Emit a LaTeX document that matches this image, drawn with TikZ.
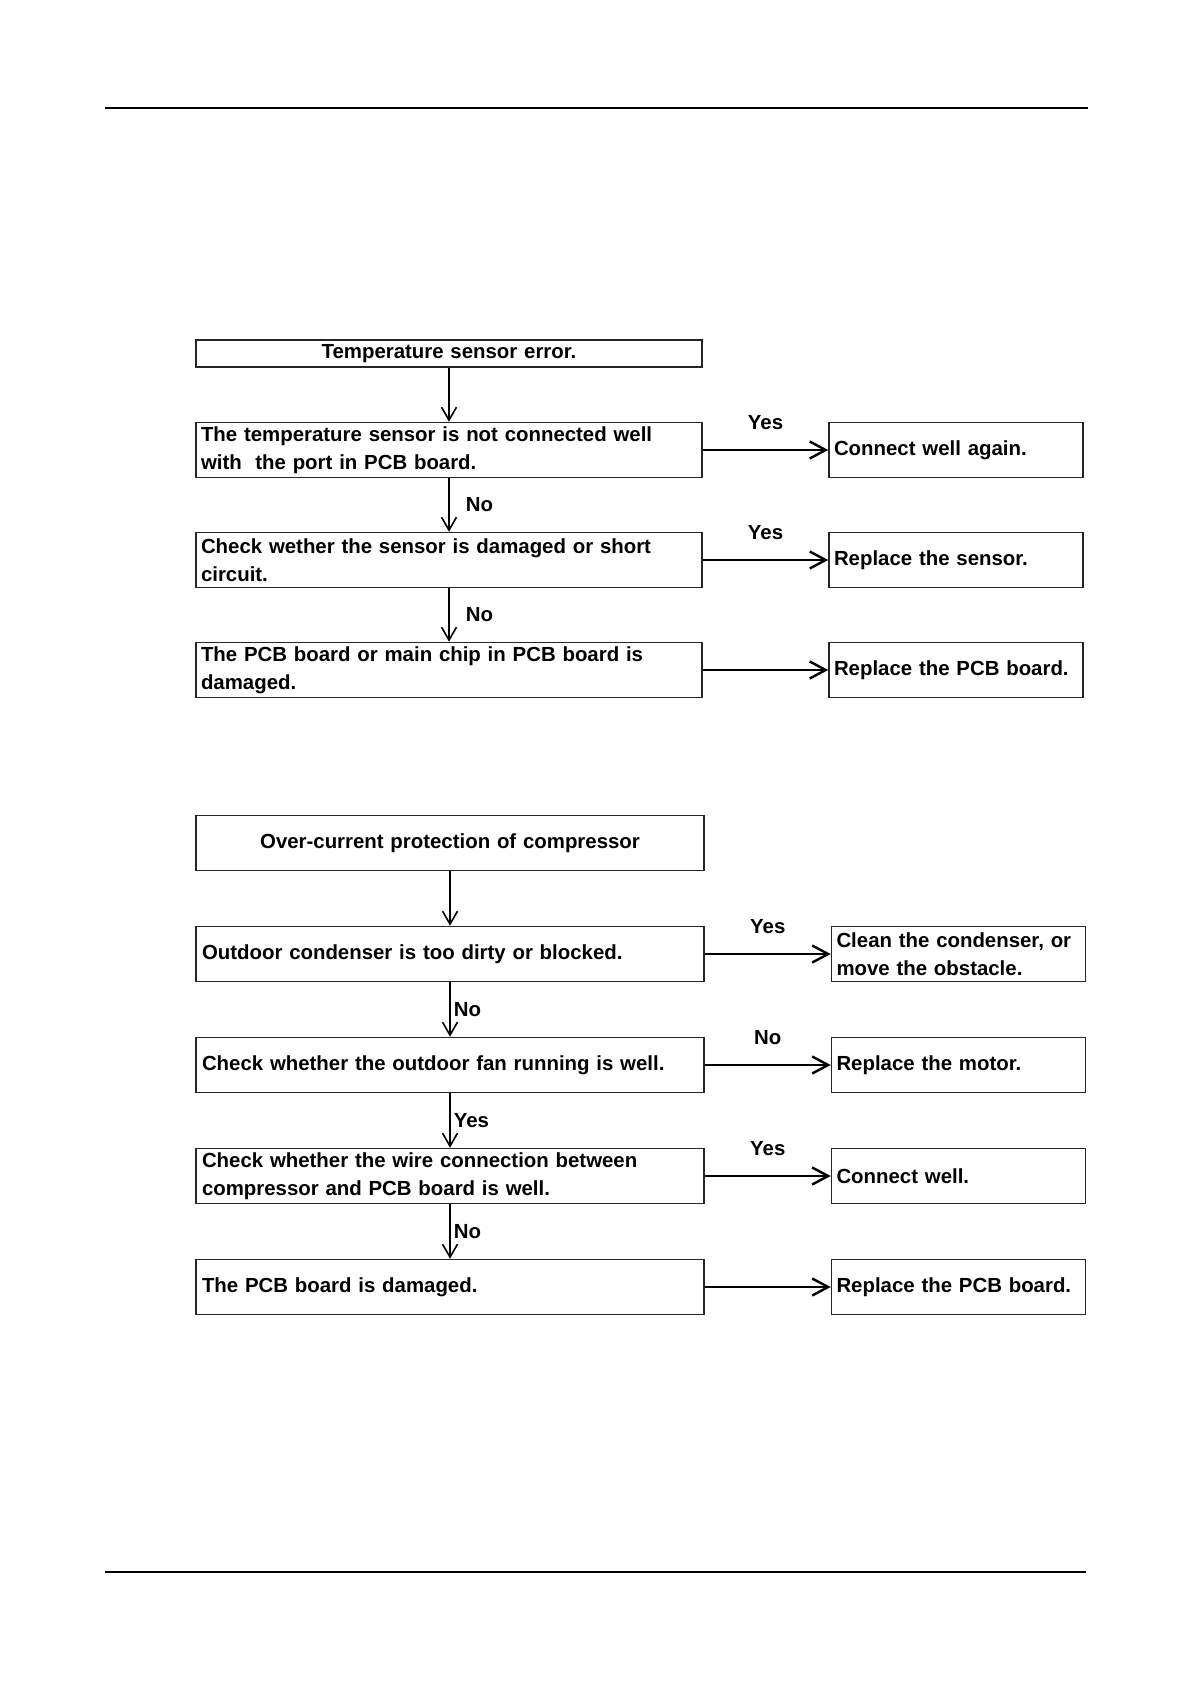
\documentclass[tikz,border=0pt]{standalone}
\usepackage{fontspec}
\setmainfont{Liberation Sans}
\usetikzlibrary{arrows.meta}
\begin{document}
\begin{tikzpicture}[x=0.5pt,y=-0.5pt,
  txt/.style={font=\bfseries\fontsize{10.2}{14}\selectfont},
  box/.style={txt, draw=black!85, line width=0.75pt, minimum height=27.5pt,
    inner xsep=2.5pt, inner ysep=0pt, align=left},
  lbox/.style={box, minimum width=253pt, text width=248pt},
  tbox/.style={lbox, align=center},
  rbox/.style={box, minimum width=127pt, text width=122pt},
  varr/.style={line width=0.8pt, -{Straight Barb[length=6.5pt,width=7.5pt]}},
  harr/.style={line width=1.2pt, -{Straight Barb[length=8pt,width=8.5pt]}},
  lbl/.style={txt, inner sep=0pt},
  rule/.style={line width=1.1pt}
]
\useasboundingbox (0,0) rectangle (1191,1684);
\draw[rule] (105,108) -- (1088,108);
\draw[rule] (105,1572) -- (1086,1572);

% ---- flowchart 1 ----
\node[tbox, minimum height=13.5pt] (a0) at (449,353.5) {Temperature sensor error.};
\node[lbox] (a1) at (449,450) {The temperature sensor is not connected well\\with\ \ the port in PCB board.};
\node[lbox] (a2) at (449,560) {Check wether the sensor is damaged or short\\circuit.};
\node[lbox] (a3) at (449,670) {The PCB board or main chip in PCB board is\\damaged.};
\node[rbox] (r1) at (956,450) {Connect well again.};
\node[rbox] (r2) at (956,560) {Replace the sensor.};
\node[rbox] (r3) at (956,670) {Replace the PCB board.};

\draw[varr] (a0) -- (a1);
\draw[varr] (a1) -- node[lbl, right, xshift=8pt] {No} (a2);
\draw[varr] (a2) -- node[lbl, right, xshift=8pt] {No} (a3);
\draw[harr] (a1) -- node[lbl, yshift=13.5pt] {Yes} (r1);
\draw[harr] (a2) -- node[lbl, yshift=13.5pt] {Yes} (r2);
\draw[harr] (a3) -- (r3);

% ---- flowchart 2 ----
\node[tbox, minimum width=254pt] (b0) at (450,843) {Over-current protection of compressor};
\node[lbox, minimum width=254pt] (b1) at (450,954) {Outdoor condenser is too dirty or blocked.};
\node[lbox, minimum width=254pt] (b2) at (450,1065) {Check whether the outdoor fan running is well.};
\node[lbox, minimum width=254pt] (b3) at (450,1176) {Check whether the wire connection between\\compressor and PCB board is well.};
\node[lbox, minimum width=254pt] (b4) at (450,1287) {The PCB board is damaged.};
\node[rbox] (s1) at (958.5,954) {Clean the condenser, or\\move the obstacle.};
\node[rbox] (s2) at (958.5,1065) {Replace the motor.};
\node[rbox] (s3) at (958.5,1176) {Connect well.};
\node[rbox] (s4) at (958.5,1287) {Replace the PCB board.};

\draw[varr] (b0) -- (b1);
\draw[varr] (b1) -- node[lbl, right, xshift=1.5pt] {No} (b2);
\draw[varr] (b2) -- node[lbl, right, xshift=1.5pt] {Yes} (b3);
\draw[varr] (b3) -- node[lbl, right, xshift=1.5pt] {No} (b4);
\draw[harr] (b1) -- node[lbl, yshift=13.5pt] {Yes} (s1);
\draw[harr] (b2) -- node[lbl, yshift=13.5pt] {No} (s2);
\draw[harr] (b3) -- node[lbl, yshift=13.5pt] {Yes} (s3);
\draw[harr] (b4) -- (s4);
\end{tikzpicture}
\end{document}
